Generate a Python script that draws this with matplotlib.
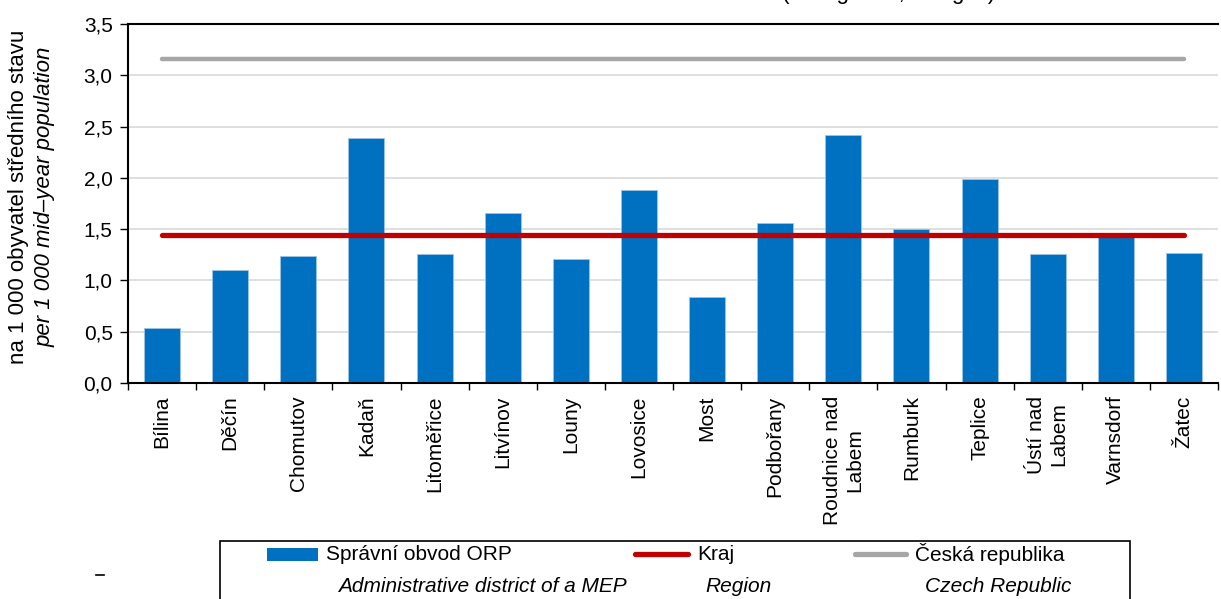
import matplotlib
matplotlib.use("Agg")
import matplotlib.pyplot as plt
import numpy as np
from matplotlib.patches import Rectangle
from matplotlib.lines import Line2D
from matplotlib.ticker import FuncFormatter, FixedLocator

plt.rcParams["font.family"] = ["Liberation Sans", "DejaVu Sans"]

districts = ["Bílina", "Děčín", "Chomutov", "Kadaň", "Litoměřice", "Litvínov",
             "Louny", "Lovosice", "Most", "Podbořany", "Roudnice nad\nLabem",
             "Rumburk", "Teplice", "Ústí nad\nLabem", "Varnsdorf", "Žatec"]
orp_values = [0.54, 1.10, 1.24, 2.39, 1.26, 1.66, 1.21, 1.88, 0.84, 1.56,
              2.42, 1.50, 1.99, 1.26, 1.46, 1.27]
kraj_value = 1.44
cr_value = 3.16

legend_cz = ["Správní obvod ORP", "Kraj", "Česká republika"]
legend_en = ["Administrative district of a MEP", "Region", "Czech Republic"]
ylabel_cz = "na 1 000 obyvatel středního stavu"
ylabel_en = "per 1 000 mid\u2013year population"
title = "Přistěhovalí ze zahraničí celkem v roce 2013 (immigrants, all ages)"

BLUE = "#0070C0"
RED = "#C00000"
GREY = "#A6A6A6"

W, H = 1221, 599
fig = plt.figure(figsize=(W / 100, H / 100), dpi=100)


def px(x, y):
    return x / W, 1 - y / H


ax = fig.add_axes([128 / W, 1 - 383 / H, 1090 / W, 359 / H])

x = np.arange(len(districts))
ax.bar(x, orp_values, width=0.53, color=BLUE, edgecolor="#9DC3E6",
       linewidth=0.6, zorder=2)
ax.plot(x, [kraj_value] * len(x), color=RED, lw=3.8, solid_capstyle="round", zorder=3)
ax.plot(x, [cr_value] * len(x), color=GREY, lw=3.2, solid_capstyle="round", zorder=3)

ax.set_xlim(-0.5, len(x) - 0.5)
ax.set_ylim(0, 3.5)
ax.set_yticks(np.arange(0, 3.51, 0.5))
ax.yaxis.set_major_formatter(FuncFormatter(lambda v, p: f"{v:.1f}".replace(".", ",")))
ax.tick_params(axis="y", labelsize=15, length=6, width=1, direction="out", pad=5)
ax.grid(axis="y", color="#D9D9D9", lw=1.2, zorder=0)
ax.set_axisbelow(True)

ax.xaxis.set_major_locator(FixedLocator(np.arange(-0.5, len(x), 1.0)))
ax.xaxis.set_major_formatter(FuncFormatter(lambda v, p: ""))
ax.xaxis.set_minor_locator(FixedLocator(x))
ax.set_xticklabels(districts, minor=True, rotation=90, fontsize=15,
                   va="top", ha="center", multialignment="center")
ax.tick_params(axis="x", which="major", length=5, width=1, direction="out")
ax.tick_params(axis="x", which="minor", length=0, pad=9)

for s in ["left", "bottom", "top"]:
    ax.spines[s].set_linewidth(1.5)
    ax.spines[s].set_color("black")
ax.spines["right"].set_visible(False)

# y axis titles
fig.text(*px(19, 197), ylabel_cz, rotation=90, ha="center", va="center", fontsize=16)
fig.text(*px(45, 197), ylabel_en, rotation=90, ha="center", va="center",
         fontsize=16, style="italic")

# title, cut by the top edge like in the source
fig.text(*px(665, -1), title, ha="center", va="baseline", fontsize=16)

# legend drawn by hand
x0, y0 = px(220, 612)
x1, y1 = px(1130, 541)
fig.add_artist(Rectangle((x0, y0), x1 - x0, y1 - y0, transform=fig.transFigure,
                         facecolor="white", edgecolor="black", lw=1.2, clip_on=False))

bx, by = px(267, 561)
bx2, by2 = px(318, 548)
fig.add_artist(Rectangle((bx, by), bx2 - bx, by2 - by, transform=fig.transFigure,
                         facecolor=BLUE, edgecolor="none"))
for (xa, xb), col in [((635, 688), RED), ((855, 906), GREY)]:
    fig.add_artist(Line2D([xa / W, xb / W], [1 - 554 / H] * 2, transform=fig.transFigure,
                          color=col, lw=3.8, solid_capstyle="round"))

for xt, txt in zip([326, 697, 915], legend_cz):
    fig.text(*px(xt, 554), txt, ha="left", va="center", fontsize=15)
for xt, txt in zip([338, 705, 925], legend_en):
    fig.text(*px(xt, 586), txt, ha="left", va="center", fontsize=15, style="italic")

fig.add_artist(Line2D([96 / W, 104 / W], [1 - 575 / H] * 2, transform=fig.transFigure,
                      color="black", lw=1.2))

fig.savefig("out.png", dpi=100)
